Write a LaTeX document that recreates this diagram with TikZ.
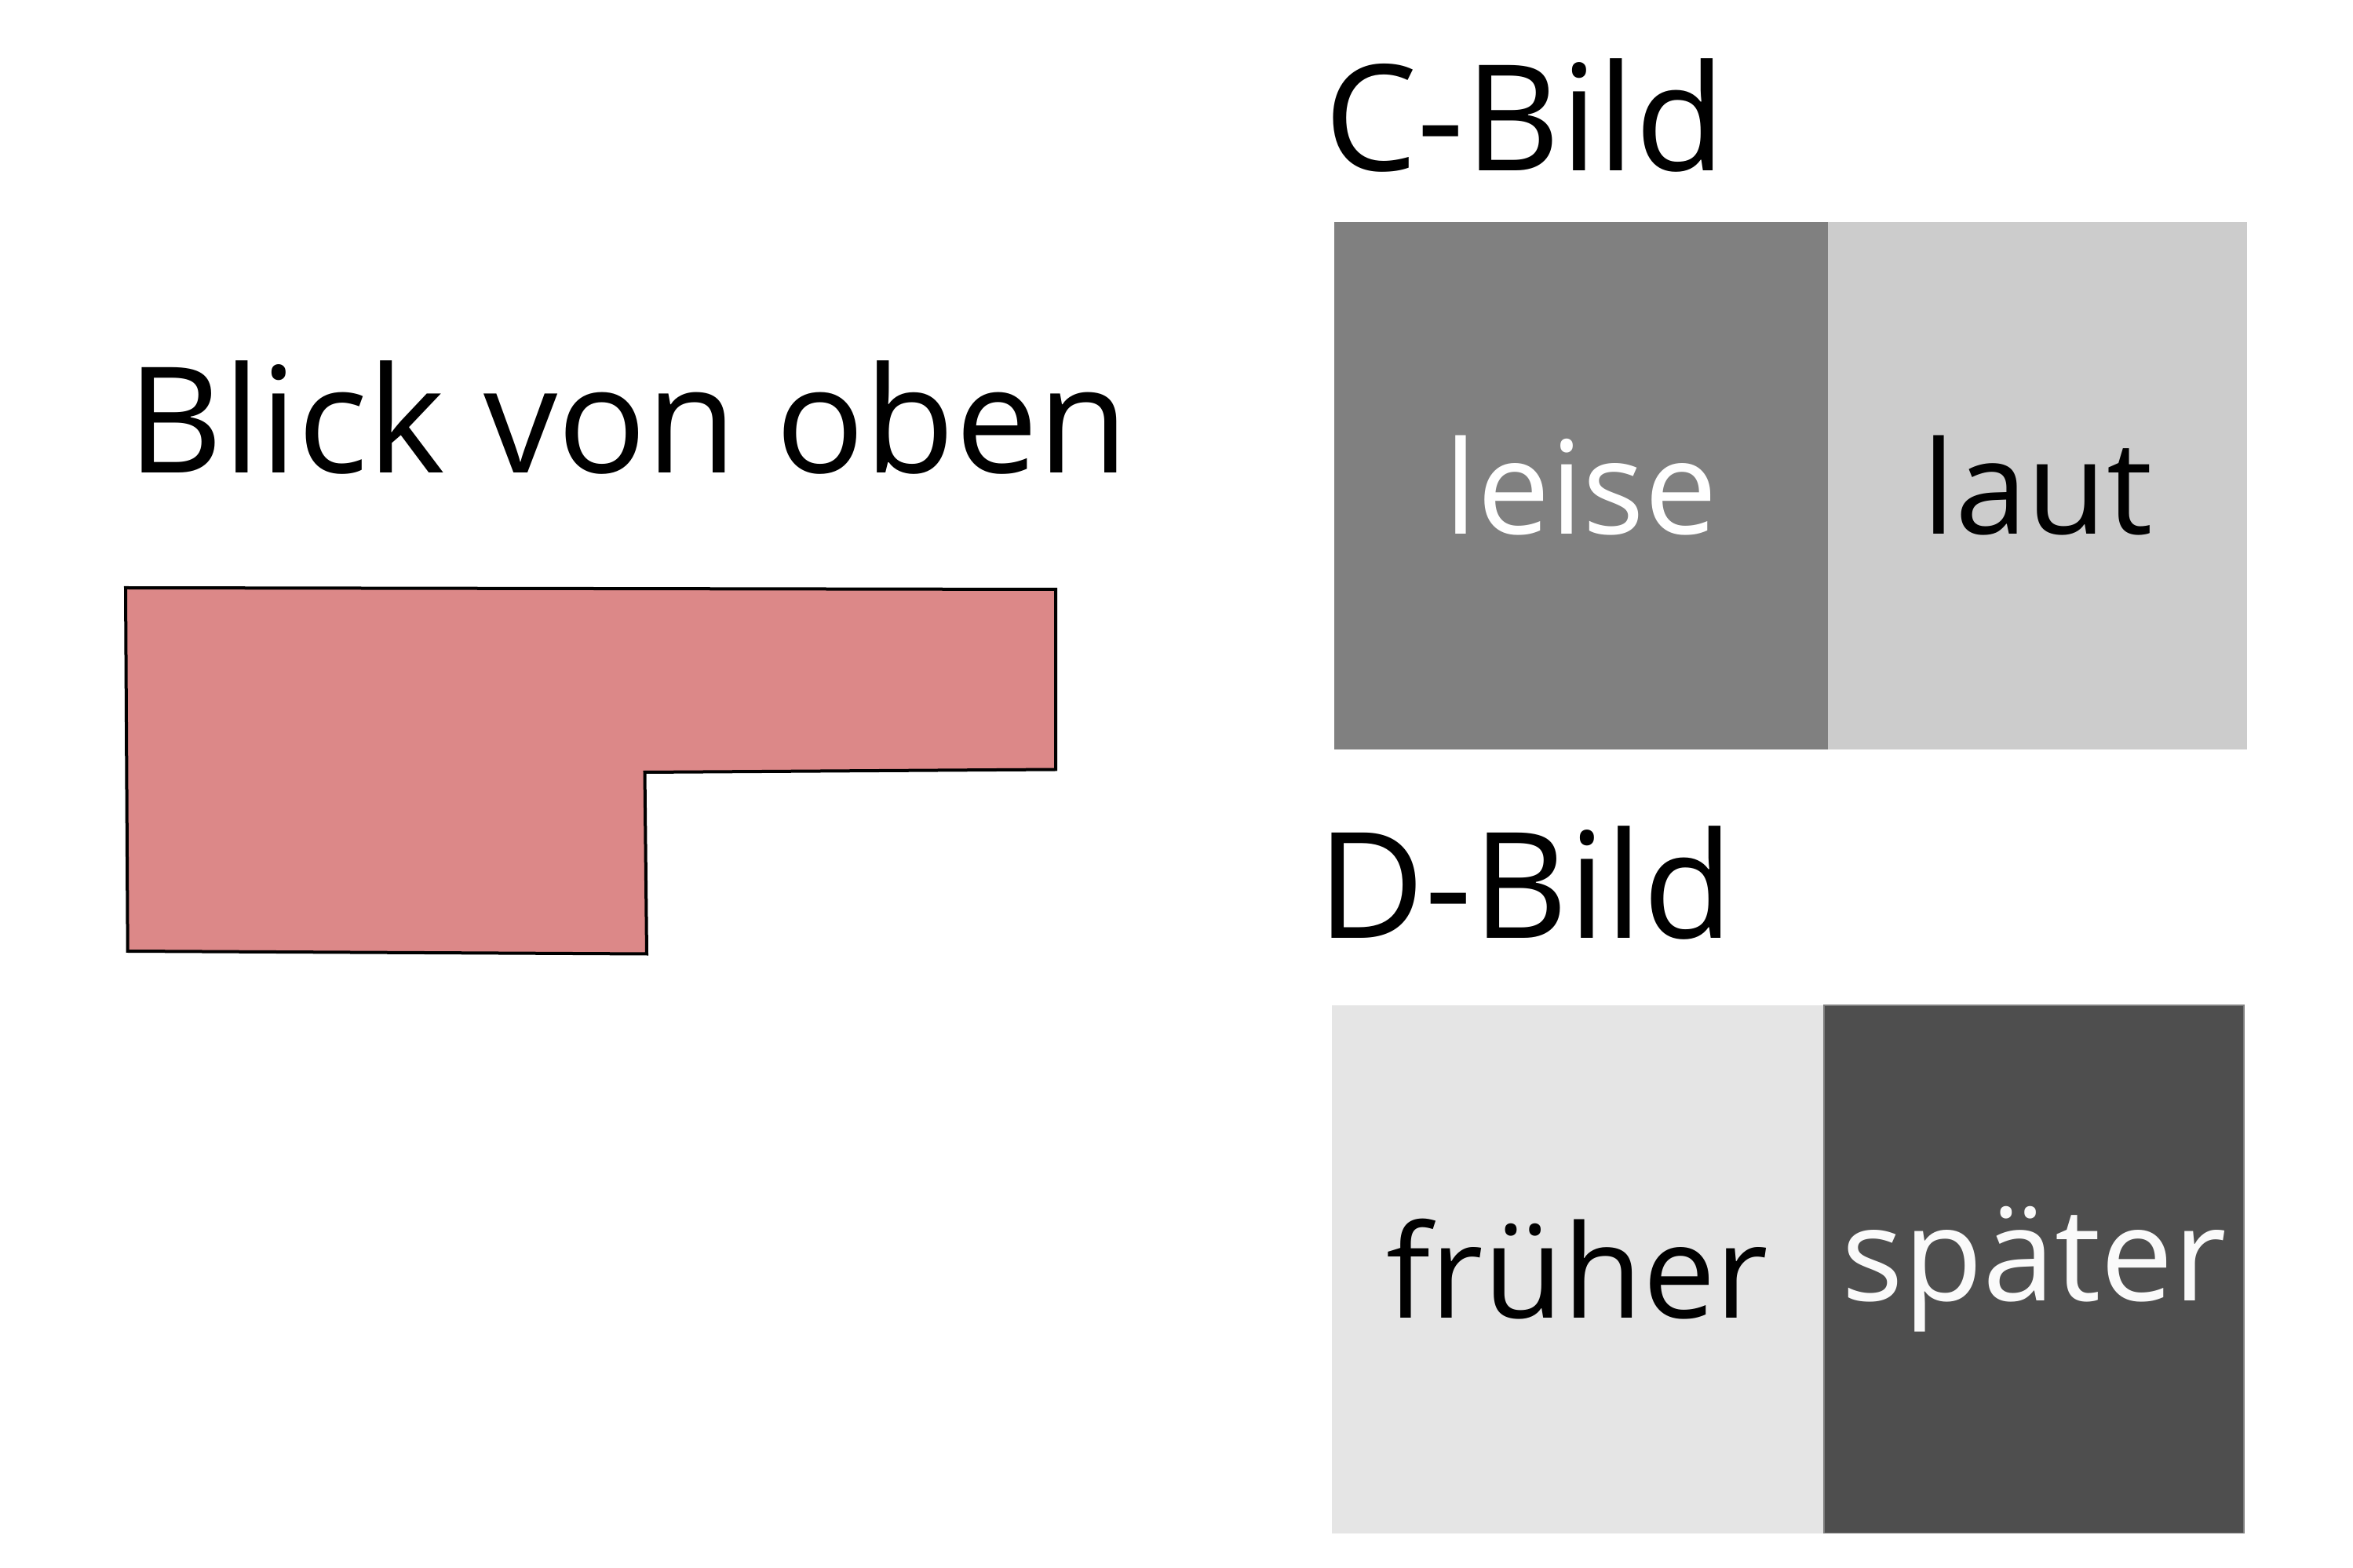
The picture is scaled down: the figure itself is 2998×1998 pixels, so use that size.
\documentclass[tikz,border=0pt]{standalone}
\usepackage{fontspec}
\setmainfont{Open Sans}
\usepackage{tikz}

\begin{document}
\begin{tikzpicture}[x=0.25pt,y=0.25pt,yscale=-1,xscale=1,
  titel/.style={font=\fontsize{47}{56}\selectfont, anchor=base west, inner sep=0pt},
  feld/.style={font=\fontsize{41.3}{50}\selectfont}]
\useasboundingbox (0,0) rectangle (2998,1998);

%Shape: Polygon [id:grundriss]
\draw [line width=1pt ,fill={rgb, 255:red, 220; green, 136; blue, 136 } ,fill opacity=1 ] (160,749) -- (1345,751) -- (1345,980.5) -- (821.5,984) -- (824,1215.5) -- (162.7,1212) -- cycle ;

%Shape: Rectangle [id:cleise]
\fill [color={rgb, 255:red, 128; green, 128; blue, 128 } ] (1700,283) rectangle (2329,955.5) ;
%Shape: Rectangle [id:claut]
\fill [color={rgb, 255:red, 204; green, 204; blue, 204 } ] (2329,283) rectangle (2863,955.5) ;
%Shape: Rectangle [id:dfrueher]
\fill [color={rgb, 255:red, 229; green, 229; blue, 229 } ] (1696.5,1281) rectangle (2324,1953.5) ;
%Shape: Rectangle [id:dspaeter]
\draw [line width=0.4pt ,color={rgb, 255:red, 128; green, 128; blue, 128 } ,fill={rgb, 255:red, 78; green, 78; blue, 78 } ] (2324,1281) rectangle (2859,1953.5) ;

% Text Node
\draw (161.6,602.3) node (blick) [titel] {Blick von oben};
% Text Node
\draw (1686.5,217.6) node (cbild) [titel] {C-Bild};
% Text Node
\draw (1678,1195) node (dbild) [titel] {D-Bild};
% Text Node
\draw (2014.5,619) node (leise) [feld ,color=white ] {leise};
% Text Node
\draw (2596,619) node (laut) [feld] {laut};
% Text Node
\draw (2010,1617) node (frueher) [feld] {früher};
% Text Node
\draw (2591.5,1617) node (spaeter) [feld ,color={rgb, 255:red, 250; green, 250; blue, 250 } ] {später};

\end{tikzpicture}
\end{document}
